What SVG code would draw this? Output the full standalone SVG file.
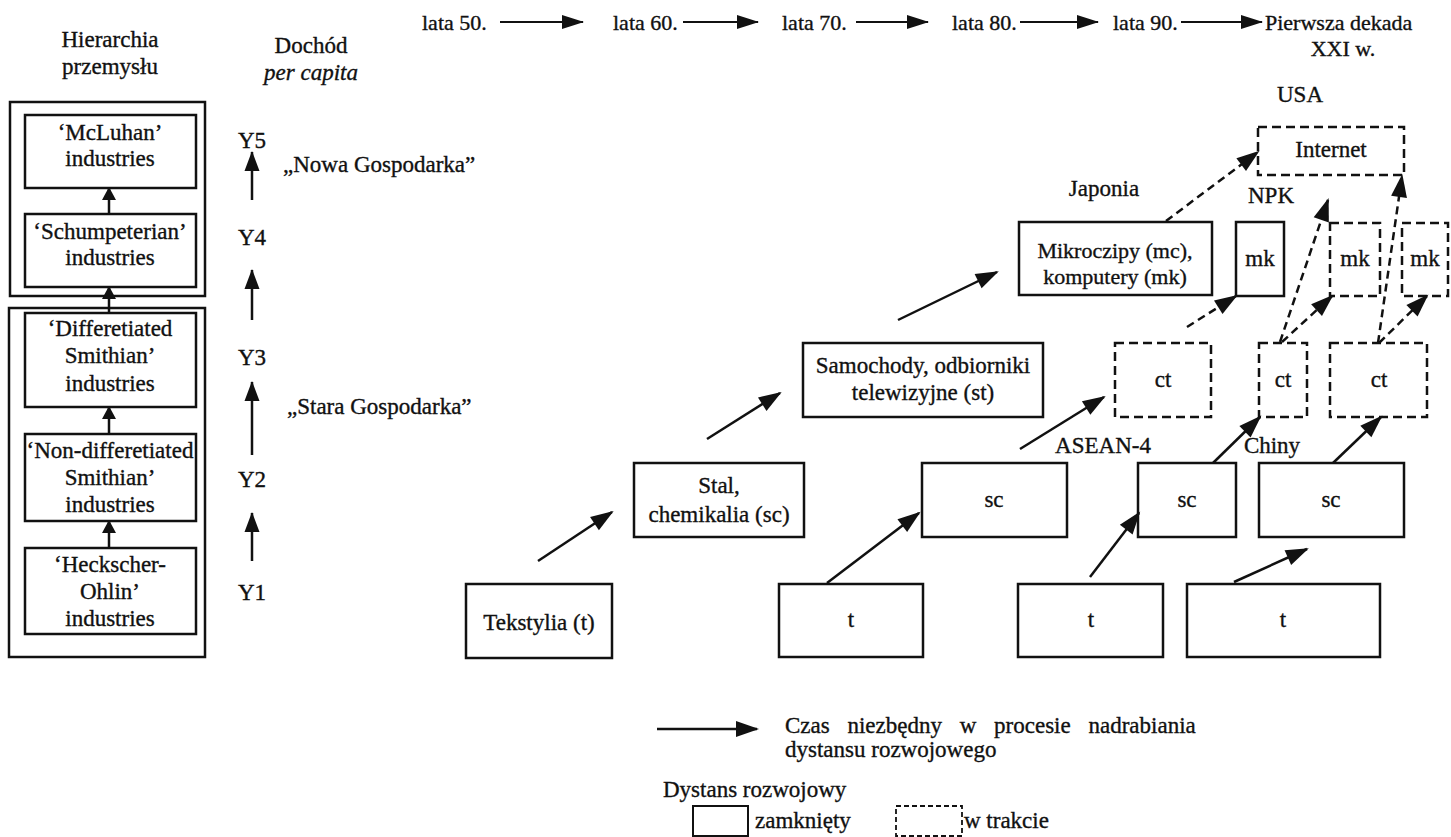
<svg xmlns="http://www.w3.org/2000/svg" width="1451" height="837" viewBox="0 0 1451 837">
<defs>
<style>
text{font-family:'Liberation Serif','Times New Roman',serif;font-size:23px;fill:#111;stroke:#111;stroke-width:0.35}
.c{text-anchor:middle}
.tl{font-size:22px}
.m{font-size:22px}
.b{fill:#fff;stroke:#111;stroke-width:2.5}
.d{fill:#fff;stroke:#111;stroke-width:2.5;stroke-dasharray:9 5}
.a{stroke:#111;stroke-width:2.5;fill:none;marker-end:url(#h)}
.da{stroke:#111;stroke-width:2.5;fill:none;stroke-dasharray:8 5;marker-end:url(#h)}
.ta{stroke:#111;stroke-width:2;fill:none;marker-end:url(#ht)}
.sa{stroke:#111;stroke-width:2.5;fill:none;marker-end:url(#hs)}
.ya{stroke:#111;stroke-width:2.5;fill:none;marker-end:url(#hy)}
</style>
<marker id="h" markerUnits="userSpaceOnUse" markerWidth="24" markerHeight="16" refX="21" refY="8" orient="auto" overflow="visible"><path d="M0,0 L23,8 L0,16 z" fill="#111" stroke="none"/></marker>
<marker id="ht" markerUnits="userSpaceOnUse" markerWidth="22" markerHeight="14" refX="21" refY="7" orient="auto" overflow="visible"><path d="M0,0 L22,7 L0,14 z" fill="#111" stroke="none"/></marker>
<marker id="hs" markerUnits="userSpaceOnUse" markerWidth="14" markerHeight="14" refX="12" refY="7" orient="auto" overflow="visible"><path d="M0,0 L13,7 L0,14 z" fill="#111" stroke="none"/></marker>
<marker id="hy" markerUnits="userSpaceOnUse" markerWidth="20" markerHeight="15" refX="19" refY="7.5" orient="auto" overflow="visible"><path d="M0,0 L20,7.5 L0,15 z" fill="#111" stroke="none"/></marker>
</defs>
<rect width="1451" height="837" fill="#fff"/>

<g id="timeline">
<text class="tl" x="422" y="30">lata 50.</text>
<text class="tl" x="613" y="30">lata 60.</text>
<text class="tl" x="782" y="30">lata 70.</text>
<text class="tl" x="952" y="30">lata 80.</text>
<text class="tl" x="1113" y="30">lata 90.</text>
<text class="tl" x="1265" y="30">Pierwsza dekada</text>
<text class="tl c" x="1343" y="56">XXI w.</text>
<line class="ta" x1="500" y1="22" x2="583" y2="22"/>
<line class="ta" x1="683" y1="22" x2="758" y2="22"/>
<line class="ta" x1="856" y1="22" x2="928" y2="22"/>
<line class="ta" x1="1020" y1="22" x2="1098" y2="22"/>
<line class="ta" x1="1181" y1="22" x2="1262" y2="22"/>
</g>

<g id="headers">
<text class="c" x="110" y="47">Hierarchia</text>
<text class="c" x="110" y="74">przemysłu</text>
<text class="c" x="311" y="53">Dochód</text>
<text class="c" x="311" y="80" font-style="italic">per capita</text>
</g>

<g id="group-new">
<rect x="10" y="102" width="195" height="194" fill="none" stroke="#111" stroke-width="2.5"/>
</g>
<g id="group-old">
<rect x="9" y="308" width="196" height="349" fill="none" stroke="#111" stroke-width="2.5"/>
</g>

<g id="mcluhan">
<rect class="b" x="25" y="115" width="171" height="73"/>
<text class="c" x="110" y="140">‘McLuhan’</text>
<text class="c" x="110" y="166">industries</text>
</g>
<g id="schumpeterian">
<rect class="b" x="25" y="214" width="171" height="73"/>
<text class="c" x="110" y="239">‘Schumpeterian’</text>
<text class="c" x="110" y="265">industries</text>
</g>
<g id="differentiated">
<rect class="b" x="25" y="313" width="171" height="94"/>
<text class="c" x="110" y="336">‘Differetiated</text>
<text class="c" x="110" y="363">Smithian’</text>
<text class="c" x="110" y="391">industries</text>
</g>
<g id="nondifferentiated">
<rect class="b" x="25" y="434" width="171" height="87"/>
<text class="c" x="110" y="458">‘Non-differetiated</text>
<text class="c" x="110" y="485">Smithian’</text>
<text class="c" x="110" y="512">industries</text>
</g>
<g id="heckscher">
<rect class="b" x="25" y="548" width="171" height="86"/>
<text class="c" x="110" y="572">‘Heckscher-</text>
<text class="c" x="110" y="599">Ohlin’</text>
<text class="c" x="110" y="626">industries</text>
</g>

<g id="income">
<text class="c" x="252" y="148">Y5</text>
<text class="c" x="252" y="245">Y4</text>
<text class="c" x="252" y="365">Y3</text>
<text class="c" x="252" y="487">Y2</text>
<text class="c" x="252" y="600">Y1</text>
<text x="283" y="172">„Nowa Gospodarka”</text>
<text x="287" y="414">„Stara Gospodarka”</text>
</g>

<g id="tekstylia">
<rect class="b" x="466" y="584" width="146" height="74"/>
<text class="c" x="539" y="630">Tekstylia (t)</text>
</g>
<g id="stal">
<rect class="b" x="634" y="463" width="170" height="74"/>
<text class="c" x="719" y="493">Stal,</text>
<text class="c" x="719" y="522">chemikalia (sc)</text>
</g>
<g id="samochody">
<rect class="b" x="803" y="343" width="240" height="74"/>
<text class="c" x="923" y="373">Samochody, odbiorniki</text>
<text class="c" x="923" y="400">telewizyjne (st)</text>
</g>
<g id="mikroczipy">
<rect class="b" x="1019" y="222" width="193" height="73"/>
<text class="m c" x="1115" y="258">Mikroczipy (mc),</text>
<text class="m c" x="1115" y="284">komputery (mk)</text>
</g>
<g id="internet">
<rect class="d" x="1258" y="127" width="146" height="48"/>
<text class="c" x="1331" y="157">Internet</text>
</g>
<g id="mk-npk">
<rect class="b" x="1236" y="222" width="48" height="74"/>
<text class="c" x="1260" y="266">mk</text>
</g>
<g id="mk-asean">
<rect class="d" x="1330" y="223" width="50" height="73"/>
<text class="c" x="1355" y="266">mk</text>
</g>
<g id="mk-chiny">
<rect class="d" x="1402" y="223" width="46" height="73"/>
<text class="c" x="1425" y="266">mk</text>
</g>
<g id="ct-npk">
<rect class="d" x="1115" y="343" width="96" height="74"/>
<text class="c" x="1163" y="387">ct</text>
</g>
<g id="ct-asean">
<rect class="d" x="1259" y="343" width="48" height="74"/>
<text class="c" x="1283" y="387">ct</text>
</g>
<g id="ct-chiny">
<rect class="d" x="1330" y="343" width="97" height="74"/>
<text class="c" x="1379" y="387">ct</text>
</g>
<g id="sc-npk">
<rect class="b" x="922" y="463" width="145" height="74"/>
<text class="c" x="994" y="507">sc</text>
</g>
<g id="sc-asean">
<rect class="b" x="1138" y="463" width="98" height="74"/>
<text class="c" x="1187" y="507">sc</text>
</g>
<g id="sc-chiny">
<rect class="b" x="1259" y="463" width="145" height="74"/>
<text class="c" x="1331" y="507">sc</text>
</g>
<g id="t-npk">
<rect class="b" x="779" y="584" width="144" height="73"/>
<text class="c" x="851" y="627">t</text>
</g>
<g id="t-asean">
<rect class="b" x="1018" y="584" width="145" height="73"/>
<text class="c" x="1091" y="627">t</text>
</g>
<g id="t-chiny">
<rect class="b" x="1187" y="584" width="193" height="73"/>
<text class="c" x="1283" y="627">t</text>
</g>

<g id="labels">
<text class="c" x="1300" y="102">USA</text>
<text class="c" x="1104" y="196">Japonia</text>
<text class="c" x="1271" y="203">NPK</text>
<text class="c" x="1103" y="453">ASEAN-4</text>
<text class="c" x="1272" y="453">Chiny</text>
</g>

<g id="connectors">
<line class="sa" x1="109" y1="214" x2="109" y2="188"/>
<line class="sa" x1="109" y1="313" x2="109" y2="287"/>
<line class="sa" x1="109" y1="434" x2="109" y2="407"/>
<line class="sa" x1="109" y1="548" x2="109" y2="521"/>
<line class="ya" x1="252" y1="200" x2="252" y2="152"/>
<line class="ya" x1="252" y1="320" x2="252" y2="270"/>
<line class="ya" x1="252" y1="455" x2="252" y2="382"/>
<line class="ya" x1="252" y1="561" x2="252" y2="513"/>
<line class="a" x1="538" y1="561" x2="612" y2="512"/>
<line class="a" x1="707" y1="439" x2="780" y2="393"/>
<line class="a" x1="898" y1="320" x2="997" y2="272"/>
<line class="a" x1="827" y1="583" x2="919" y2="513"/>
<line class="a" x1="1020" y1="449" x2="1104" y2="397"/>
<line class="a" x1="1090" y1="577" x2="1139" y2="513"/>
<line class="a" x1="1213" y1="463" x2="1260" y2="417"/>
<line class="a" x1="1234" y1="582" x2="1307" y2="549"/>
<line class="a" x1="1333" y1="463" x2="1381" y2="417"/>
<line class="da" x1="1187" y1="327" x2="1236" y2="296"/>
<line class="da" x1="1166" y1="221" x2="1258" y2="152"/>
<line class="da" x1="1280" y1="342" x2="1328" y2="200"/>
<line class="da" x1="1282" y1="342" x2="1332" y2="296"/>
<line class="da" x1="1378" y1="343" x2="1402" y2="176"/>
<line class="da" x1="1379" y1="343" x2="1427" y2="296"/>
</g>

<g id="legend">
<line class="a" x1="657" y1="729" x2="757" y2="729"/>
<text x="785" y="733" word-spacing="12">Czas niezbędny w procesie nadrabiania</text>
<text x="785" y="757">dystansu rozwojowego</text>
<text x="663" y="797">Dystans rozwojowy</text>
<rect x="693" y="806" width="55" height="30" fill="#fff" stroke="#111" stroke-width="2"/>
<text x="755" y="828">zamknięty</text>
<rect x="896" y="806" width="66" height="30" fill="#fff" stroke="#111" stroke-width="1.8" stroke-dasharray="5 3"/>
<text x="964" y="828">w trakcie</text>
</g>
</svg>
